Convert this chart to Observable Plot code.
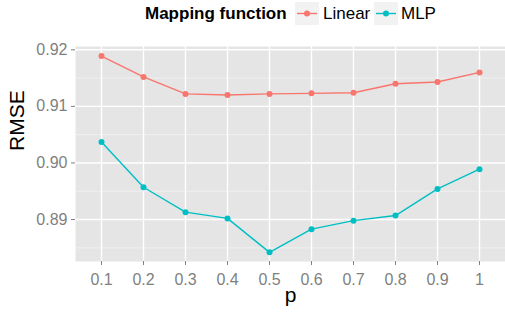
<!DOCTYPE html>
<html>
<head>
<meta charset="utf-8">
<script src="https://cdn.jsdelivr.net/npm/d3@7"></script>
<script src="https://cdn.jsdelivr.net/npm/@observablehq/plot@0.6"></script>
<style>
  html, body { margin: 0; padding: 0; background: #fff; }
  body { width: 505px; height: 314px; overflow: hidden; font-family: "Liberation Sans", Arial, Helvetica, sans-serif; }
  #legend { display: block; }
</style>
</head>
<body>
<div id="legend"></div>
<div id="chart"></div>
<script>
// ---- data ----
const pLabels = ["0.1", "0.2", "0.3", "0.4", "0.5", "0.6", "0.7", "0.8", "0.9", "1"];
const linearRMSE = [0.9189, 0.9152, 0.9122, 0.9120, 0.9122, 0.9123, 0.9124, 0.9140, 0.9143, 0.9160];
const mlpRMSE    = [0.9037, 0.8957, 0.8913, 0.8902, 0.8842, 0.8883, 0.8898, 0.8907, 0.8954, 0.8989];
const seriesNames = ["Linear", "MLP"];
const seriesColors = ["#F8766D", "#00BFC4"];
const yMajorTicks = [0.89, 0.90, 0.91, 0.92];
const yMinorTicks = [0.885, 0.895, 0.905, 0.915];
const legendTitle = "Mapping function";
const xTitle = "p";
const yTitle = "RMSE";

const rows = [];
pLabels.forEach((p, i) => {
  rows.push({p, rmse: linearRMSE[i], series: seriesNames[0]});
  rows.push({p, rmse: mlpRMSE[i], series: seriesNames[1]});
});

// ---- legend (above the plot) ----
const lg = d3.create("svg").attr("width", 505).attr("height", 30)
  .style("display", "block")
  .style("font-family", '"Liberation Sans", Arial, Helvetica, sans-serif');
lg.append("text").attr("x", 145).attr("y", 19).attr("font-size", 17)
  .attr("font-weight", "bold").attr("fill", "#000").text(legendTitle);
const keyX = [295, 374];
const labX = [323, 401];
seriesNames.forEach((name, i) => {
  const g = lg.append("g");
  g.append("rect").attr("x", keyX[i]).attr("y", 2).attr("width", 24).attr("height", 23).attr("fill", "#F2F2F2");
  g.append("line").attr("x1", keyX[i] + 2).attr("x2", keyX[i] + 22).attr("y1", 13.5).attr("y2", 13.5)
    .attr("stroke", seriesColors[i]).attr("stroke-width", 1.4);
  g.append("circle").attr("cx", keyX[i] + 12).attr("cy", 13.5).attr("r", 3).attr("fill", seriesColors[i]);
  lg.append("text").attr("x", labX[i]).attr("y", 19).attr("font-size", 17).attr("fill", "#000").text(name);
});
document.getElementById("legend").appendChild(lg.node());

// ---- plot ----
const chart = Plot.plot({
  width: 505,
  height: 284,
  marginTop: 16,
  marginBottom: 53,
  marginLeft: 75,
  marginRight: 0,
  style: { fontFamily: '"Liberation Sans", Arial, Helvetica, sans-serif', color: "#7F7F7F", background: "#fff" },
  x: { type: "point", domain: pLabels, padding: 0.6 },
  y: { domain: [0.88258, 0.92058] },
  color: { domain: seriesNames, range: seriesColors },
  marks: [
    Plot.frame({ fill: "#E5E5E5", stroke: "none" }),
    Plot.ruleY(yMinorTicks, { stroke: "#F2F2F2", strokeWidth: 0.9 }),
    Plot.ruleY(yMajorTicks, { stroke: "#FFFFFF", strokeWidth: 1.4 }),
    Plot.ruleX(pLabels, { stroke: "#FFFFFF", strokeWidth: 1.4 }),
    Plot.axisY(yMajorTicks, { ticks: yMajorTicks, tickFormat: d3.format(".2f"), tickSize: 4, tickPadding: 4, fontSize: 16, label: null, strokeWidth: 1 }),
    Plot.axisX({ tickSize: 4, tickPadding: 8, fontSize: 16, label: null, strokeWidth: 1 }),
    Plot.line(rows, { x: "p", y: "rmse", z: "series", stroke: "series", strokeWidth: 1.4 }),
    Plot.dot(rows, { x: "p", y: "rmse", fill: "series", r: 3, stroke: "none" }),
    Plot.text([yTitle], { frameAnchor: "left", dx: -58, dy: -3, rotate: -90, fontSize: 21, fill: "#000" }),
    Plot.text([xTitle], { frameAnchor: "bottom", dy: 40, fontSize: 21, fill: "#000" })
  ]
});
document.getElementById("chart").appendChild(chart);
</script>
</body>
</html>
